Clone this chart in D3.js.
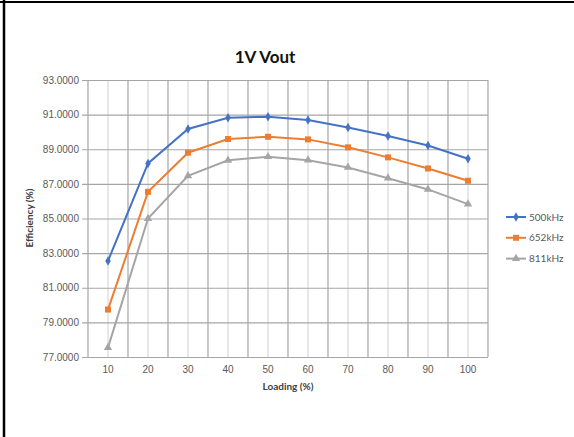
<!DOCTYPE html>
<html>
<head>
<meta charset="utf-8">
<script src="https://cdn.jsdelivr.net/npm/d3@7"></script>
<style>
  html, body { margin: 0; padding: 0; background: #fff; }
  svg { display: block; font-family: Lato, "Open Sans", sans-serif; }
</style>
</head>
<body>
<svg id="chart" width="574" height="437"></svg>
<script>
// Load level (%) on the x axis
const loading = [10, 20, 30, 40, 50, 60, 70, 80, 90, 100];

// Efficiency (%) for each switching frequency
const eff500 = [82.55, 88.18, 90.17, 90.82, 90.88, 90.69, 90.26, 89.76, 89.22, 88.45];
const eff652 = [79.74, 86.54, 88.80, 89.59, 89.72, 89.57, 89.11, 88.53, 87.89, 87.18];
const eff811 = [77.54, 85.00, 87.47, 88.36, 88.57, 88.37, 87.95, 87.33, 86.68, 85.83];

const seriesNames = ["500kHz", "652kHz", "811kHz"];
const seriesColors = ["#4472C4", "#ED7D31", "#A5A5A5"];
const seriesShapes = [d3.symbolDiamond, d3.symbolSquare, d3.symbolTriangle];
const seriesSizes = [26, 36, 30];

const yTicks = [77, 79, 81, 83, 85, 87, 89, 91, 93];

const series = [eff500, eff652, eff811].map((vals, i) => ({
  name: seriesNames[i], color: seriesColors[i], shape: seriesShapes[i], size: seriesSizes[i],
  points: vals.map((v, j) => ({ x: loading[j], y: v }))
}));

const svg = d3.select("#chart");
const plot = { left: 88, right: 488, top: 80, bottom: 357 };

// outer frame (left and top edges)
svg.append("line").attr("x1", 4).attr("x2", 4).attr("y1", 0).attr("y2", 437)
  .attr("stroke", "#000").attr("stroke-width", 2.5);
svg.append("line").attr("x1", 0).attr("x2", 574).attr("y1", 2).attr("y2", 2)
  .attr("stroke", "#000").attr("stroke-width", 2);

const x = d3.scaleBand().domain(loading).range([plot.left, plot.right]);
const y = d3.scaleLinear().domain([77, 93]).range([plot.bottom, plot.top]);
const cx = v => x(v) + x.bandwidth() / 2;

// minor vertical grid through category centers
svg.append("g").selectAll("line").data(loading).join("line")
  .attr("x1", d => cx(d)).attr("x2", d => cx(d))
  .attr("y1", plot.top).attr("y2", plot.bottom)
  .attr("stroke", "#d9d9d9").attr("stroke-width", 1.2);

// major vertical grid at category boundaries
const bounds = loading.map(d => x(d)).concat([plot.right]);
svg.append("g").selectAll("line").data(bounds).join("line")
  .attr("x1", d => d).attr("x2", d => d)
  .attr("y1", plot.top).attr("y2", plot.bottom)
  .attr("stroke", "#a6a6a6").attr("stroke-width", 1.2);

// horizontal grid + y axis
const yAxis = d3.axisLeft(y).tickValues(yTicks)
  .tickFormat(d3.format(".4f")).tickSize(plot.right - plot.left + 6).tickPadding(3);
const yg = svg.append("g").attr("transform", `translate(${plot.right},0)`).call(yAxis);
yg.select(".domain").remove();
yg.selectAll(".tick line").attr("stroke", "#a6a6a6").attr("stroke-width", 1.2);
yg.selectAll(".tick text").attr("fill", "#595959").style("font-size", "10px");

// x axis labels
const xAxis = d3.axisBottom(x).tickSize(0).tickPadding(9);
const xg = svg.append("g").attr("transform", `translate(0,${plot.bottom})`).call(xAxis);
xg.select(".domain").remove();
xg.selectAll(".tick text").attr("fill", "#595959").style("font-size", "10px");

// lines and markers
const line = d3.line().x(d => cx(d.x)).y(d => y(d.y));
series.forEach(s => {
  svg.append("path").datum(s.points).attr("d", line)
    .attr("fill", "none").attr("stroke", s.color).attr("stroke-width", 2);
  svg.append("g").selectAll("path").data(s.points).join("path")
    .attr("d", d3.symbol(s.shape, s.size))
    .attr("transform", d => `translate(${cx(d.x)},${y(d.y)})`)
    .attr("fill", s.color);
});

// title
svg.append("text").attr("x", 265).attr("y", 63).attr("text-anchor", "middle")
  .style("font-size", "17px").style("font-weight", "bold").attr("fill", "#111")
  .text("1V Vout");

// axis titles
svg.append("text").attr("x", (plot.left + plot.right) / 2).attr("y", 390)
  .attr("text-anchor", "middle").style("font-size", "10px").style("font-weight", "bold")
  .attr("fill", "#404040").text("Loading (%)");
svg.append("text").attr("transform", "translate(33,218) rotate(-90)")
  .attr("text-anchor", "middle").style("font-size", "10px").style("font-weight", "bold")
  .attr("fill", "#404040").text("Efficiency (%)");

// legend
const lg = svg.append("g").selectAll("g").data(series).join("g")
  .attr("transform", (d, i) => `translate(506,${217 + i * 20.8})`);
lg.append("line").attr("x1", 0).attr("x2", 20).attr("stroke", d => d.color).attr("stroke-width", 2);
lg.append("path").attr("d", d => d3.symbol(d.shape, d.size)()).attr("transform", "translate(10,0)")
  .attr("fill", d => d.color);
lg.append("text").attr("x", 23).attr("y", 0).attr("dy", "0.35em")
  .style("font-size", "10px").attr("fill", "#595959").text(d => d.name);
</script>
</body>
</html>
